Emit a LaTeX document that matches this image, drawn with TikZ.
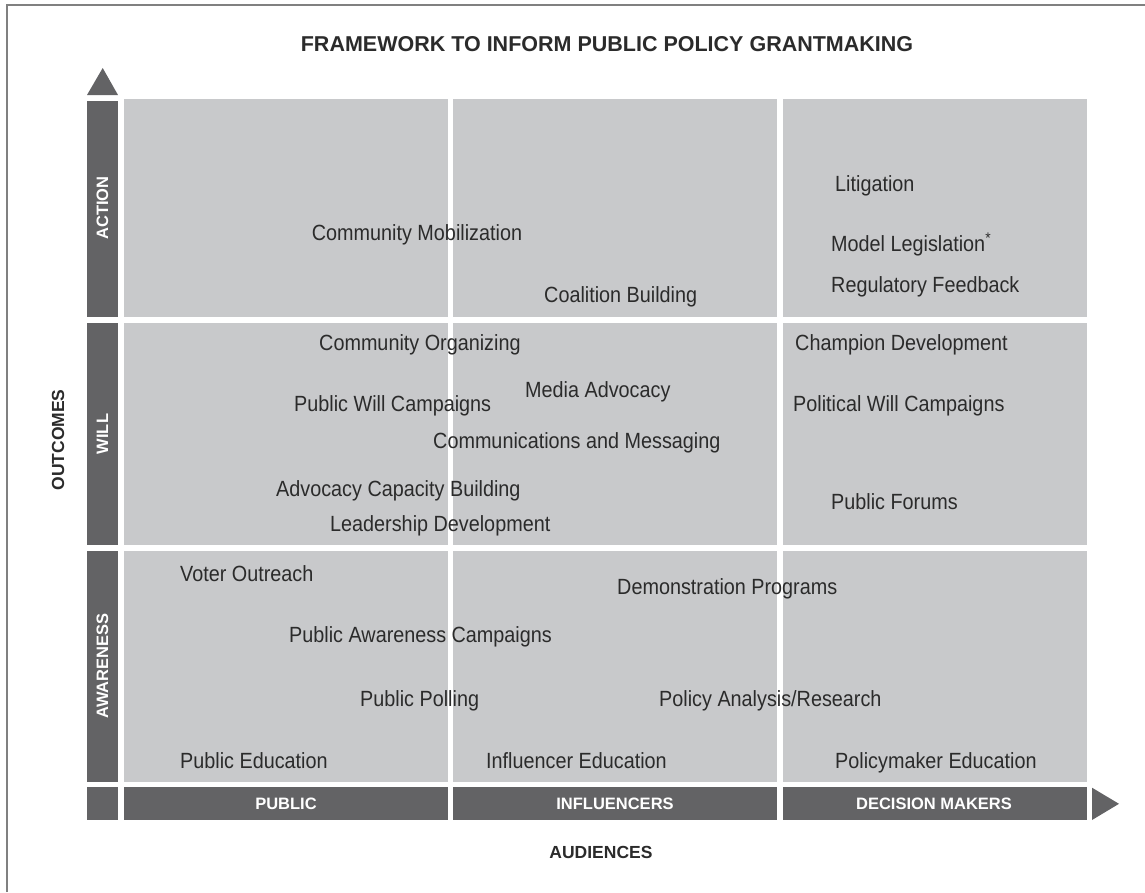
\documentclass[tikz,border=0pt]{standalone}
\usepackage{fontspec}
\setmainfont{Liberation Sans}[FakeStretch=0.9]
\newfontfamily\lblfont{Liberation Sans}
\definecolor{cell}{HTML}{C8C9CB}
\definecolor{bar}{HTML}{636365}
\definecolor{ink}{HTML}{2B2B2B}
\definecolor{frame}{HTML}{808080}
\begin{document}
\begin{tikzpicture}[x=1pt,y=-1pt,
  cellbox/.style={fill=cell,draw=none},
  barbox/.style={fill=bar,draw=none},
  item/.style={anchor=base west,inner sep=0pt,text=ink,font=\fontsize{22}{26}\selectfont},
  barlabel/.style={text=white,inner sep=0pt,font=\lblfont\bfseries\fontsize{16.5}{19}\selectfont},
  axislabel/.style={text=ink,inner sep=0pt,font=\lblfont\bfseries\fontsize{17.5}{20}\selectfont},
  titlelabel/.style={text=ink,inner sep=0pt,font=\lblfont\bfseries\fontsize{21.5}{24}\selectfont}]
\useasboundingbox (0,0) rectangle (1145,892);
% frame
\draw[frame,line width=1.5pt] (7,892) -- (7,5) -- (1145,5);
% cells
\fill[cellbox] (124,99) rectangle (447.7,317);
\fill[cellbox] (453.3,99) rectangle (777,317);
\fill[cellbox] (782.7,99) rectangle (1087,317);
\fill[cellbox] (124,322.7) rectangle (447.7,545);
\fill[cellbox] (453.3,322.7) rectangle (777,545);
\fill[cellbox] (782.7,322.7) rectangle (1087,545);
\fill[cellbox] (124,550.7) rectangle (447.7,781.7);
\fill[cellbox] (453.3,550.7) rectangle (777,781.7);
\fill[cellbox] (782.7,550.7) rectangle (1087,781.7);
% left bars
\fill[barbox] (87,100.7) rectangle (118,317);
\fill[barbox] (87,322.7) rectangle (118,545);
\fill[barbox] (87,550.7) rectangle (118,781.7);
\fill[barbox] (87,787.3) rectangle (118,820);
\fill[barbox] (102.7,68) -- (118,95) -- (87,95) -- cycle;
% bottom bars
\fill[barbox] (124,787.3) rectangle (447.7,820);
\fill[barbox] (453.3,787.3) rectangle (777,820);
\fill[barbox] (782.7,787.3) rectangle (1087,820);
\fill[barbox] (1092,787.7) -- (1119,803.8) -- (1092,820) -- cycle;
% bar labels
\node[barlabel,rotate=90] (action) at (102.5,208) {ACTION};
\node[barlabel,rotate=90] (will) at (102.5,434) {WILL};
\node[barlabel,rotate=90] (awareness) at (102.5,666) {AWARENESS};
\node[barlabel] (public) at (286,804) {PUBLIC};
\node[barlabel] (influencers) at (615,804) {INFLUENCERS};
\node[barlabel] (decision) at (934,804) {DECISION MAKERS};
% axis labels
\node[titlelabel] (title) at (607,44) {FRAMEWORK TO INFORM PUBLIC POLICY GRANTMAKING};
\node[axislabel,rotate=90] (outcomes) at (58,440) {OUTCOMES};
\node[axislabel] (audiences) at (601,852) {AUDIENCES};
% items
\node[item] (lit) at (835,191) {Litigation};
\node[item] (cmob) at (311.7,240) {Community Mobilization};
\node[item] (model) at (831,251) {Model Legislation\textsuperscript{*}};
\node[item] (coal) at (544,302) {Coalition Building};
\node[item] (reg) at (831,292) {Regulatory Feedback};
\node[item] (corg) at (319,350) {Community Organizing};
\node[item] (champ) at (795,350) {Champion Development};
\node[item] (media) at (525,397) {Media Advocacy};
\node[item] (pwc) at (294,411) {Public Will Campaigns};
\node[item] (polwc) at (793,411) {Political Will Campaigns};
\node[item] (comm) at (433,448) {Communications and Messaging};
\node[item] (acb) at (276,496) {Advocacy Capacity Building};
\node[item] (forums) at (831,509) {Public Forums};
\node[item] (lead) at (330,531) {Leadership Development};
\node[item] (voter) at (180,581) {Voter Outreach};
\node[item] (demo) at (617,594) {Demonstration Programs};
\node[item] (pac) at (289,642) {Public Awareness Campaigns};
\node[item] (poll) at (360,706) {Public Polling};
\node[item] (par) at (659,706) {Policy Analysis/Research};
\node[item] (pedu) at (180,768) {Public Education};
\node[item] (iedu) at (486,768) {Influencer Education};
\node[item] (pmedu) at (835,768) {Policymaker Education};
\end{tikzpicture}
\end{document}
